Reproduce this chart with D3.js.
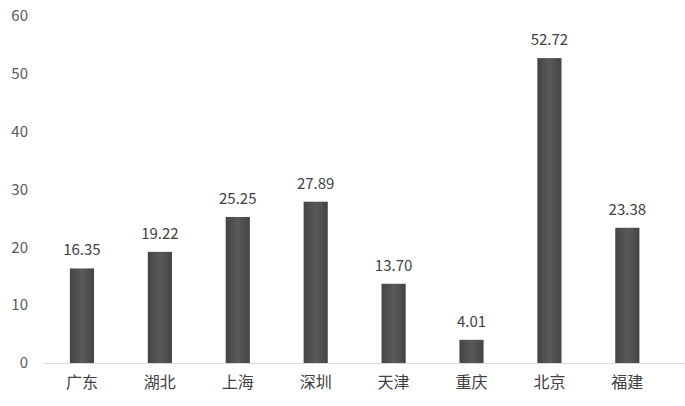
<!DOCTYPE html>
<html><head><meta charset="utf-8">
<script src="https://cdn.jsdelivr.net/npm/d3@7"></script>
<style>body{margin:0;background:#fff}svg{display:block}</style>
</head><body>
<svg id="c" width="685" height="406"></svg>
<script>
const categories = ["广东","湖北","上海","深圳","天津","重庆","北京","福建"];
const values = [16.35,19.22,25.25,27.89,13.70,4.01,52.72,23.38];
const valueLabels = ["16.35","19.22","25.25","27.89","13.70","4.01","52.72","23.38"];
const yTicks = [0,10,20,30,40,50,60];

const svg = d3.select("#c");
const font = "'Noto Sans CJK SC','Liberation Sans',sans-serif";
const x = d3.scaleBand().domain(categories).range([43,666.3]).paddingInner(0.69).paddingOuter(0.345);
const y = d3.scaleLinear().domain([0,60]).range([363,16]);

const defs = svg.append("defs");
const g = defs.append("linearGradient").attr("id","bg").attr("x1","0").attr("x2","1").attr("y1","0").attr("y2","0");
g.append("stop").attr("offset","0").attr("stop-color","#444");
g.append("stop").attr("offset","0.5").attr("stop-color","#5a5a5a");
g.append("stop").attr("offset","1").attr("stop-color","#444");

// y axis labels
const ya = svg.append("g").attr("transform","translate(28,0)")
  .call(d3.axisLeft(y).tickValues(yTicks).tickSize(0).tickPadding(0));
ya.select(".domain").remove();
ya.selectAll("text").attr("font-family",font).attr("font-size",15).attr("fill","#595959");

// baseline
svg.append("line").attr("x1",43).attr("x2",685).attr("y1",y(0)+0.5).attr("y2",y(0)+0.5)
  .attr("stroke","#d9d9d9").attr("stroke-width",1);

// bars
svg.selectAll("rect.bar").data(values).join("rect").attr("class","bar")
  .attr("x",(d,i)=>x(categories[i])).attr("width",x.bandwidth())
  .attr("y",d=>y(d)).attr("height",d=>y(0)-y(d)).attr("fill","url(#bg)");

// value labels
svg.selectAll("text.vl").data(values).join("text").attr("class","vl")
  .attr("x",(d,i)=>x(categories[i])+x.bandwidth()/2).attr("y",d=>y(d)-13)
  .attr("text-anchor","middle").attr("font-family",font).attr("font-size",15)
  .attr("fill","#404040").text((d,i)=>valueLabels[i]);

// x axis labels
const xa = svg.append("g").attr("transform",`translate(0,${y(0)})`)
  .call(d3.axisBottom(x).tickSize(0).tickPadding(14));
xa.select(".domain").remove();
xa.selectAll("text").attr("font-family",font).attr("font-size",16).attr("fill","#404040");
</script>
</body></html>
